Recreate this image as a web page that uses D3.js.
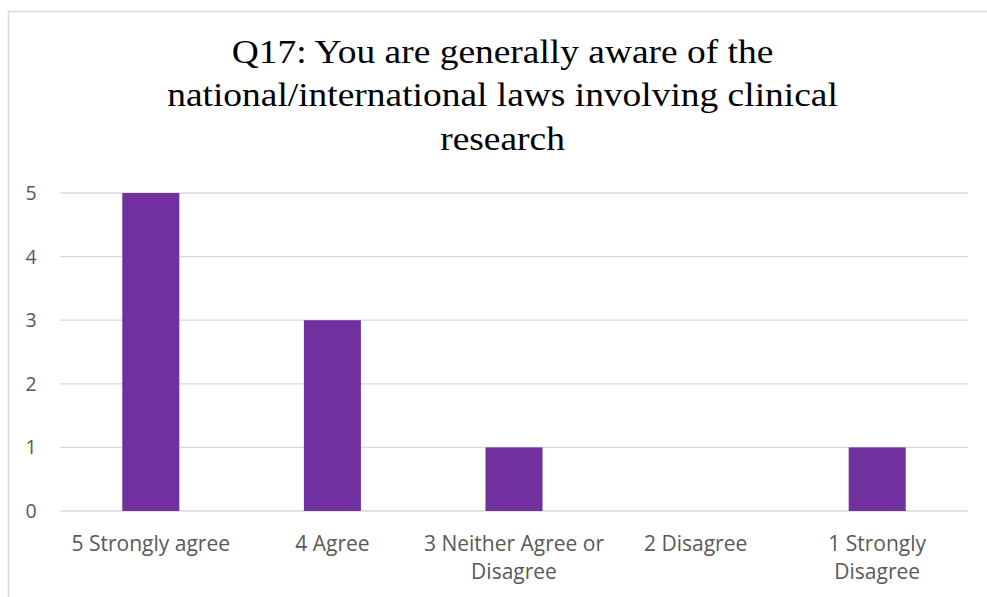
<!DOCTYPE html>
<html>
<head>
<meta charset="utf-8">
<script src="https://cdn.jsdelivr.net/npm/d3@7"></script>
<style>
  html, body { margin: 0; padding: 0; background: #fff; }
  svg { display: block; }
</style>
</head>
<body>
<div id="chart"></div>
<script>
// survey answers and counts
const categories = ["5 Strongly agree", "4 Agree", "3 Neither Agree or Disagree", "2 Disagree", "1 Strongly Disagree"];
const labelLines = [["5 Strongly agree"], ["4 Agree"], ["3 Neither Agree or", "Disagree"], ["2 Disagree"], ["1 Strongly", "Disagree"]];
const counts = [5, 3, 1, 0, 1];
const yTicks = [0, 1, 2, 3, 4, 5];
const titleLines = ["Q17: You are generally aware of the", "national/international laws involving clinical", "research"];

const width = 987, height = 597;
const plot = {left: 60, right: 968, top: 193, bottom: 511};

const svg = d3.select("#chart").append("svg")
  .attr("width", width)
  .attr("height", height);

// chart frame
svg.append("rect")
  .attr("x", 8.5).attr("y", 11.5)
  .attr("width", 1000).attr("height", 700)
  .attr("fill", "#fff")
  .attr("stroke", "#d9d9d9")
  .attr("stroke-width", 1.5);

const x = d3.scaleBand()
  .domain(categories)
  .range([plot.left, plot.right])
  .paddingInner(0.686)
  .paddingOuter(0.343);

const y = d3.scaleLinear()
  .domain([0, 5])
  .range([plot.bottom, plot.top]);

// gridlines
svg.append("g")
  .selectAll("line")
  .data(yTicks)
  .join("line")
  .attr("x1", plot.left).attr("x2", plot.right)
  .attr("y1", d => y(d)).attr("y2", d => y(d))
  .attr("stroke", "#d9d9d9")
  .attr("stroke-width", 1.3);

// y labels
svg.append("g")
  .selectAll("text")
  .data(yTicks)
  .join("text")
  .attr("x", 31)
  .attr("y", d => y(d))
  .attr("dy", "0.36em")
  .attr("text-anchor", "middle")
  .attr("font-family", "'Open Sans', sans-serif")
  .attr("font-size", 19.5)
  .attr("fill", "#595959")
  .text(d => d);

// bars
svg.append("g")
  .selectAll("rect")
  .data(counts)
  .join("rect")
  .attr("x", (d, i) => x(categories[i]))
  .attr("width", x.bandwidth())
  .attr("y", d => y(d))
  .attr("height", d => y(0) - y(d))
  .attr("fill", "#7030a0");

// category labels
const xl = svg.append("g")
  .selectAll("text")
  .data(labelLines)
  .join("text")
  .attr("x", (d, i) => x(categories[i]) + x.bandwidth() / 2)
  .attr("y", 551)
  .attr("text-anchor", "middle")
  .attr("font-family", "'Open Sans', sans-serif")
  .attr("font-size", 21)
  .attr("fill", "#595959");
xl.each(function(d) {
  const t = d3.select(this);
  d.forEach((line, j) => {
    t.append("tspan")
      .attr("x", t.attr("x"))
      .attr("dy", j === 0 ? 0 : 28)
      .text(line);
  });
});

// title, a touch wider than the plain serif
const tx = 502.5;
svg.append("g")
  .attr("transform", `translate(${tx},0) scale(1.135,1)`)
  .selectAll("text")
  .data(titleLines)
  .join("text")
  .attr("x", 0)
  .attr("y", (d, i) => 63 + i * 43.5)
  .attr("text-anchor", "middle")
  .attr("font-family", "'Liberation Serif', 'Times New Roman', serif")
  .attr("font-size", 33)
  .attr("fill", "#000")
  .text(d => d);
</script>
</body>
</html>
